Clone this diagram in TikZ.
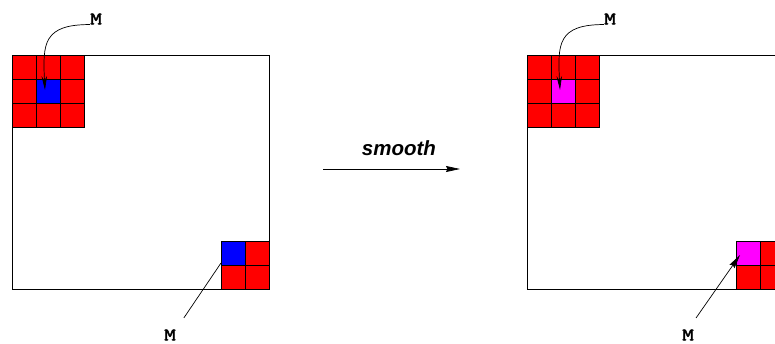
\documentclass[tikz,border=0pt]{standalone}
\usepackage{fontspec}
\newfontfamily\sfont{Liberation Sans}
\newfontfamily\mfont[FakeBold=2.5,FakeStretch=1.3]{Latin Modern Mono}
\usetikzlibrary{arrows.meta,calc}
\definecolor{cred}{RGB}{255,0,0}
\definecolor{cblue}{RGB}{0,0,255}
\definecolor{cmag}{RGB}{255,0,255}
\tikzset{
  cell/.style={draw=black, line width=0.8pt, fill=cred, minimum size=24pt, inner sep=0pt, outer sep=0pt},
  frame/.style={draw=black, line width=0.8pt},
  mlabel/.style={inner sep=0pt, font=\mfont\fontsize{17.5}{17.5}\selectfont},
  conn/.style={line width=0.7pt},
  curvedarrow/.style={conn, -{Stealth[length=14pt,width=5.5pt]}},
  straightarrow/.style={conn, -{Stealth[length=14pt,width=6pt,inset=1.5pt]}},
  smoothlabel/.style={inner sep=0pt, font=\sfont\bfseries\itshape\fontsize{20.5}{20.5}\selectfont}
}
\begin{document}
\begin{tikzpicture}[x=1pt,y=-1pt]
\useasboundingbox (0,0) rectangle (775,344);
\clip (0,0) rectangle (775,344);
% left image
\draw[frame] (12,55) rectangle (269,289);
\foreach \i in {0,1,2}{\foreach \j in {0,1,2}{
  \node[cell] (L\i\j) at (24+24*\i,67+24*\j) {};}}
\node[cell, fill=cblue] (Lc) at (48,91) {};
\node[cell, fill=cblue] (Lb) at (233,253) {};
\node[cell] (Lb2) at (257,253) {};
\node[cell] (Lb3) at (233,277) {};
\node[cell] (Lb4) at (257,277) {};
% right image
\draw[frame] (527,55) rectangle (784,289);
\foreach \i in {0,1,2}{\foreach \j in {0,1,2}{
  \node[cell] (R\i\j) at (539+24*\i,67+24*\j) {};}}
\node[cell, fill=cmag] (Rc) at (563,91) {};
\node[cell, fill=cmag] (Rb) at (748,253) {};
\node[cell] (Rb2) at (772,253) {};
\node[cell] (Rb3) at (748,277) {};
\node[cell] (Rb4) at (772,277) {};
% labels
\node[mlabel] (mtl) at (96,19) {M};
\node[mlabel] (mtr) at (610,19) {M};
\node[mlabel] (mbl) at (170,335) {M};
\node[mlabel] (mbr) at (688,335) {M};
% connectors
\coordinate (tl) at ($(Lc.center)+(-3,-1)$);
\coordinate (tr) at ($(Rc.center)+(-3,-1)$);
\draw[curvedarrow] (mtl.south west) to[out=180,in=93,looseness=1.5] (tl);
\draw[curvedarrow] (mtr.south west) to[out=180,in=93,looseness=1.5] (tr);
\draw[conn, shorten <=14pt] (mbl.north east) -- ($(Lb.south west)+(0,-2)$);
\coordinate (rbt) at ($(Rb.center)+(-8,2)$);
\draw[straightarrow, shorten <=14pt] (mbr.north) -- (rbt);
% smooth arrow
\coordinate (s1) at (323,169);
\coordinate (s2) at (460,169);
\draw[straightarrow] (s1) -- (s2);
\node[smoothlabel] (sm) at (399,148) {smooth};
\end{tikzpicture}
\end{document}
